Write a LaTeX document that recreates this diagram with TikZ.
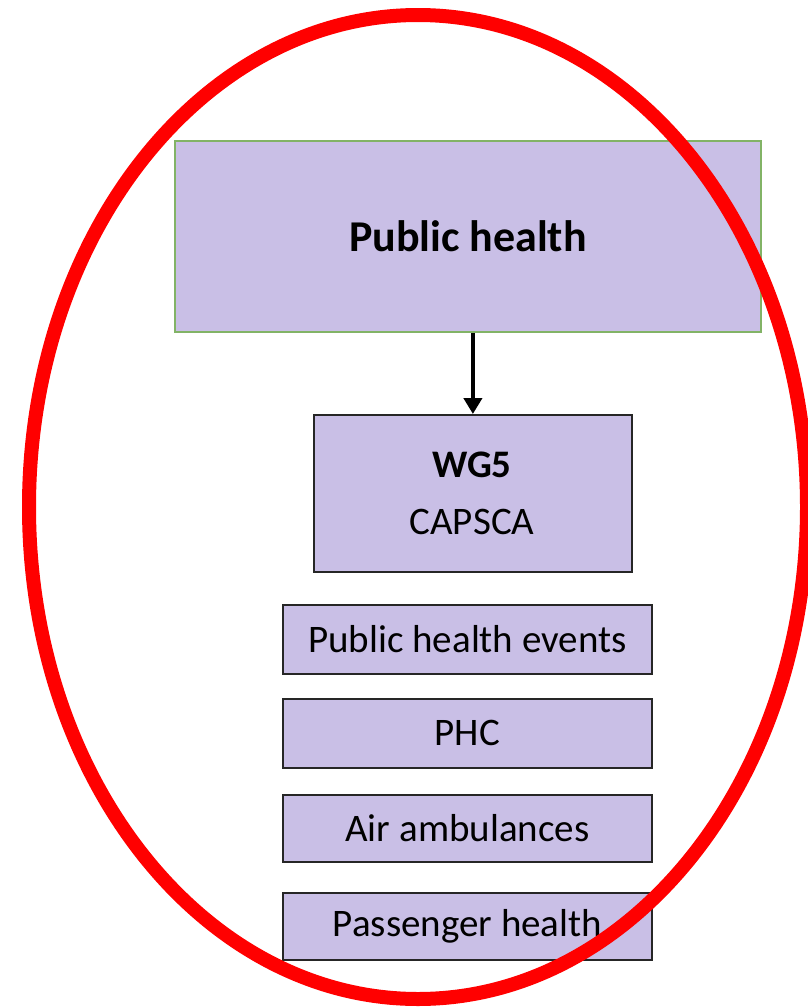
\documentclass[tikz,border=0pt]{standalone}
\usepackage{fontspec}
\setmainfont{Carlito}
\usetikzlibrary{arrows.meta}
\definecolor{lav}{HTML}{C9BFE6}
\definecolor{grn}{HTML}{82B366}
\definecolor{ovalred}{HTML}{FF0000}
\begin{document}
\begin{tikzpicture}[x=1pt,y=-1pt,
  box/.style={draw=black!85,line width=1.8pt,fill=lav,inner sep=0pt,anchor=north west,font=\fontsize{39}{44}\selectfont},
  topbox/.style={draw=grn,line width=1.8pt,fill=lav,inner sep=0pt,anchor=north west,font=\fontsize{44}{50}\selectfont\bfseries}]
\useasboundingbox (0,0) rectangle (807,1007);
\fill[white] (0,0) rectangle (807,1007);
\node[topbox,minimum width=586pt,minimum height=191pt] (ph) at (174,140) {Public health};
\node[box,minimum width=318pt,minimum height=157pt,align=center] (wg) at (313,414) {};
\node[font=\fontsize{39}{44}\selectfont\bfseries] (wgt) at (472,465) {WG5};
\node[font=\fontsize{39}{44}\selectfont] (cap) at (472,522) {CAPSCA};
\node[box,minimum width=369pt,minimum height=69pt] (e1) at (282,604) {Public health events};
\node[box,minimum width=369pt,minimum height=69pt] (e2) at (282,698) {PHC};
\node[box,minimum width=369pt,minimum height=67pt] (e3) at (282,794) {Air ambulances};
\node[box,minimum width=369pt,minimum height=67pt] (e4) at (282,892) {Passenger health};
\draw[line width=4pt,-{Triangle[width=18pt,length=16pt]}] (ph.south -| wg.north) -- (wg.north);
\draw[ovalred,line width=14pt] (418,507) ellipse [x radius=389pt,y radius=492pt];
\end{tikzpicture}
\end{document}
